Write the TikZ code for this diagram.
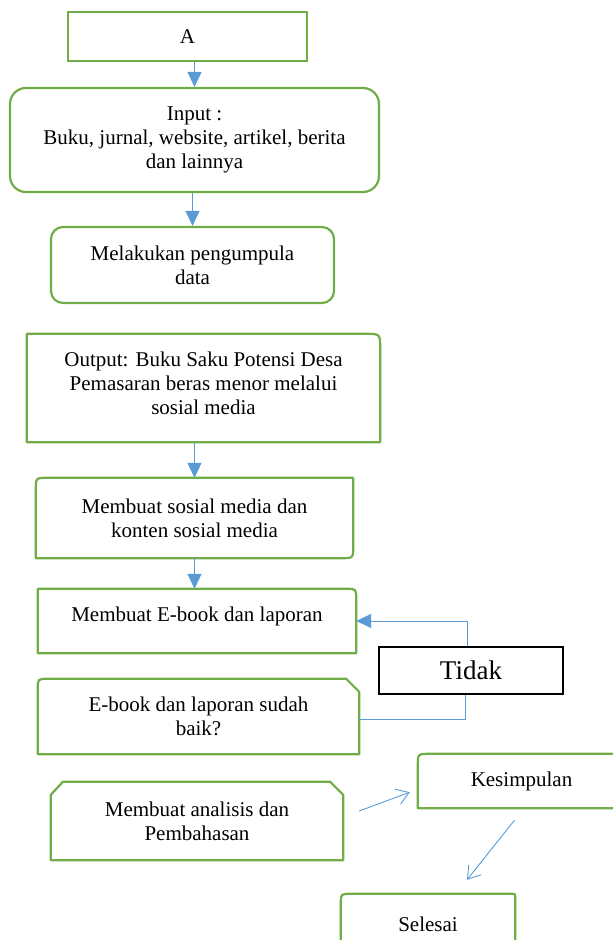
\documentclass[tikz,border=0pt]{standalone}
\usepackage{fontspec}
\setmainfont{Liberation Serif}
\usetikzlibrary{arrows.meta, calc}
\definecolor{boxgreen}{RGB}{112,173,71}
\definecolor{flowblue}{RGB}{91,155,213}

\begin{document}
\begin{tikzpicture}[x=1pt,y=-1pt,
    box/.style={inner sep=0pt,align=center,font=\fontsize{21}{24}\selectfont},
    gbox/.style={box,draw=boxgreen,line width=2.2pt},
    gline/.style={draw=boxgreen,line width=2.2pt,line join=round},
    arr/.style={-{Triangle[length=15pt,width=14pt]},flowblue,line width=1pt},
    openarr/.style={-{Straight Barb[length=12pt,width=16pt]},flowblue,line width=0.9pt}
]
  \useasboundingbox (0,0) rectangle (613,940);

  % Top of the flow
  \node[gbox,minimum width=239pt,minimum height=49pt] (A) at (187.5,36.5) {A};
  \node[gbox,rounded corners=16pt,minimum width=369pt,minimum height=104pt] (inp) at (194.5,140)
    {Input :\\Buku, jurnal, website, artikel, berita\\dan lainnya};
  \node[gbox,rounded corners=12pt,minimum width=283pt,minimum height=76pt] (kumpul) at (192.5,265)
    {Melakukan pengumpula\\data};

  % Middle boxes (outlines drawn below)
  \node[box,minimum width=353pt,minimum height=108pt,text depth=10pt] (outp) at (203.5,388)
    {Output: Buku Saku Potensi Desa\\Pemasaran beras menor melalui\\sosial media};
  \node[box,minimum width=317pt,minimum height=80pt] (sosmed) at (194.5,518)
    {Membuat sosial media dan\\konten sosial media};
  \node[box,minimum width=318pt,minimum height=64pt,text depth=14pt] (ebook) at (197,621)
    {Membuat E-book dan laporan};
  \node[box,draw=black,line width=1.6pt,minimum width=184pt,minimum height=47pt,
        font=\fontsize{27}{30}\selectfont] (tidak) at (471,670.5) {Tidak};
  \node[box,minimum width=321pt,minimum height=75pt] (cek) at (198.5,716.5)
    {E-book dan laporan sudah\\baik?};
  \node[box,minimum width=292pt,minimum height=78pt] (analisis) at (197,821)
    {Membuat analisis dan\\Pembahasan};
  \node[box,minimum width=207pt,minimum height=54pt] (simpul) at (521.5,781) {Kesimpulan};
  \node[box,minimum width=174pt,minimum height=60pt] (selesai) at (428,924) {Selesai};

  % Outlines with mixed corners
  \draw[gline] (outp.south west) -- (outp.north west) -- ([xshift=-15pt]outp.north east)
    .. controls (outp.north east) .. ([yshift=-15pt]outp.north east) -- (outp.south east) -- cycle;
  \draw[gline] (sosmed.south west) -- ([yshift=-12pt]sosmed.north west)
    .. controls (sosmed.north west) .. ([xshift=12pt]sosmed.north west) -- (sosmed.north east)
    -- ([yshift=12pt]sosmed.south east) .. controls (sosmed.south east) .. ([xshift=-12pt]sosmed.south east) -- cycle;
  \draw[gline] (ebook.south west) -- (ebook.north west) -- ([xshift=-10pt]ebook.north east)
    .. controls (ebook.north east) .. ([yshift=-10pt]ebook.north east) -- (ebook.south east) -- cycle;
  \draw[gline] (cek.south west) -- ([yshift=-10pt]cek.north west)
    .. controls (cek.north west) .. ([xshift=10pt]cek.north west) -- ([xshift=-13pt]cek.north east)
    -- ([yshift=-13pt]cek.north east) -- (cek.south east) -- cycle;
  \draw[gline] (analisis.south west) -- ([yshift=-13pt]analisis.north west) -- ([xshift=12pt]analisis.north west)
    -- ([xshift=-13pt]analisis.north east) -- ([yshift=-13pt]analisis.north east) -- (analisis.south east) -- cycle;
  \draw[gline] (simpul.south east) -- (simpul.south west) -- ([yshift=-12pt]simpul.north west)
    .. controls (simpul.north west) .. ([xshift=12pt]simpul.north west) -- (simpul.north east) -- cycle;
  \draw[gline] (selesai.south west) -- ([yshift=-10pt]selesai.north west)
    .. controls (selesai.north west) .. ([xshift=10pt]selesai.north west) -- ([xshift=-4pt]selesai.north east)
    .. controls (selesai.north east) .. ([yshift=-4pt]selesai.north east) -- (selesai.south east);

  % Arrows
  \draw[arr] (A.south -| inp.north) -- (inp.north);
  \draw[arr] (inp.south -| kumpul.north) -- (kumpul.north);
  \draw[arr] (outp.south -| sosmed.north) -- (sosmed.north);
  \draw[arr] (sosmed.south) -- (sosmed.south |- ebook.north);
  \draw[arr] ([xshift=-4pt]tidak.north) |- (ebook.east);
  \draw[flowblue,line width=1pt] ([yshift=-2.5pt]cek.east) -| ([xshift=-6pt]tidak.south);
  \draw[openarr] ([xshift=16pt,yshift=10pt]analisis.east) -- ([xshift=-8pt,yshift=16pt]simpul.south west);
  \draw[openarr] ([xshift=-7pt,yshift=-12pt]simpul.south) -- ([xshift=39pt,yshift=14pt]selesai.north);
\end{tikzpicture}
\end{document}
